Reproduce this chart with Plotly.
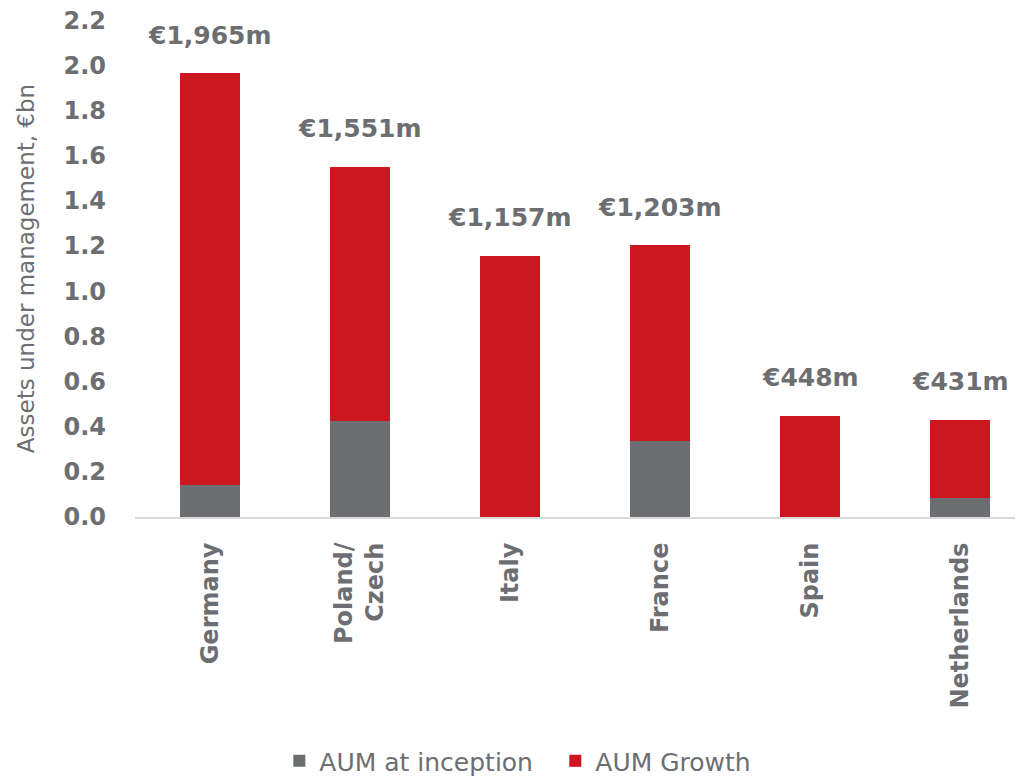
import plotly.graph_objects as go

countries = ["Germany", "Poland/<br>Czech", "Italy", "France", "Spain", "Netherlands"]
total_aum = [1.965, 1.551, 1.157, 1.203, 0.448, 0.431]
aum_inception = [0.14, 0.425, 0.0, 0.335, 0.0, 0.085]
aum_growth = [round(t - i, 3) for t, i in zip(total_aum, aum_inception)]
total_labels = ["€1,965m", "€1,551m", "€1,157m", "€1,203m", "€448m", "€431m"]
y_ticks = [0.0, 0.2, 0.4, 0.6, 0.8, 1.0, 1.2, 1.4, 1.6, 1.8, 2.0, 2.2]

GRAY = "#6d6e71"
RED = "#cc1720"
TEXT = "#6d6e71"

fig = go.Figure()
fig.add_trace(go.Bar(x=countries, y=aum_inception, name="AUM at inception",
                     marker=dict(color=GRAY, line=dict(width=0)), width=0.4))
fig.add_trace(go.Bar(x=countries, y=aum_growth, name="AUM Growth",
                     marker=dict(color=RED, line=dict(width=0)), width=0.4))

for c, t, lab in zip(countries, total_aum, total_labels):
    fig.add_annotation(x=c, y=t, text=lab, showarrow=False, yanchor="middle",
                       yshift=38, font=dict(family="DejaVu Sans", size=25, color=TEXT, weight="bold"))

fig.update_layout(
    barmode="stack",
    width=1023, height=780,
    margin=dict(l=127, r=8, t=12, b=271, autoexpand=False),
    plot_bgcolor="white", paper_bgcolor="white",
    font=dict(family="DejaVu Sans", color=TEXT),
    showlegend=True,
    legend=dict(orientation="h", xref="container", yref="container", x=0.535, y=0.005,
                xanchor="center", yanchor="bottom", entrywidth=231, entrywidthmode="pixels",
                font=dict(family="DejaVu Sans", size=25, color=TEXT), itemwidth=30,
                traceorder="normal"),
    xaxis=dict(range=[-0.5, 5.42], showgrid=False, showline=True, linecolor="#d9d9d9",
               linewidth=2, tickangle=-90, ticks="", ticklabelstandoff=14, automargin=False,
               tickfont=dict(family="DejaVu Sans", size=24, color=TEXT, weight="bold")),
    yaxis=dict(range=[0, 2.2005], tickvals=y_ticks, tickformat=".1f", showgrid=False,
               showline=False, zeroline=False, ticks="", ticklabelstandoff=28,
               ticklabeloverflow="allow", automargin=False,
               tickfont=dict(family="DejaVu Sans", size=24, color=TEXT, weight="bold"),
               title=dict(text="Assets under management, €bn", standoff=22,
                          font=dict(family="DejaVu Sans", size=23, color=TEXT))),
)

fig.write_html("out.html")
